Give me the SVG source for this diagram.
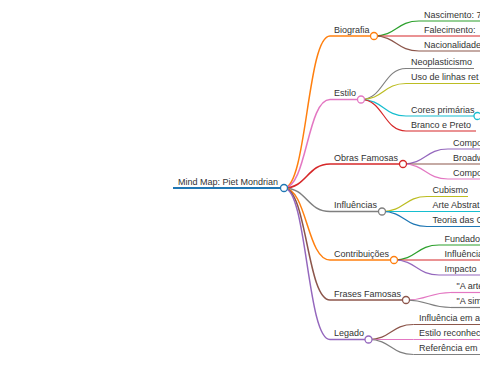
<svg xmlns="http://www.w3.org/2000/svg" width="480" height="379" viewBox="0 0 480 379">
<style>
.t{font-family:"Liberation Sans",Arial,sans-serif;font-size:9px;fill:#333}
path{fill:none}
.l0{stroke-width:2}
.l1{stroke-width:1.5}
.l2{stroke-width:1.2}
circle{fill:#fff;stroke-width:1.3}
.blue{stroke:#1f77b4}.orange{stroke:#ff7f0e}.green{stroke:#2ca02c}.red{stroke:#d62728}.purple{stroke:#9467bd}.brown{stroke:#8c564b}.pink{stroke:#e377c2}.gray{stroke:#7f7f7f}.olive{stroke:#bcbd22}.cyan{stroke:#17becf}
</style>
<rect width="480" height="379" fill="#fff"/>
<g id="connectors">
<path class="l1 orange" d="M284,188C307,188 307,36 330,36"/>
<path class="l1 pink" d="M284,188C307,188 307,99.5 330,99.5"/>
<path class="l1 red" d="M284,188C307,188 307,164 330,164"/>
<path class="l1 gray" d="M284,188C307,188 307,211.5 330,211.5"/>
<path class="l1 orange" d="M284,188C307,188 307,260 330,260"/>
<path class="l1 brown" d="M284,188C307,188 307,300 330,300"/>
<path class="l1 purple" d="M284,188C307,188 307,339.5 330,339.5"/>
<path class="l2 green" d="M374,36C396.5,36 396.5,21 419,21"/>
<path class="l2 red" d="M374,36C396.5,36 396.5,36 419,36"/>
<path class="l2 brown" d="M374,36C396.5,36 396.5,51 419,51"/>
<path class="l2 gray" d="M361,99.5C383.5,99.5 383.5,68.5 406,68.5"/>
<path class="l2 olive" d="M361,99.5C383.5,99.5 383.5,83.5 406,83.5"/>
<path class="l2 cyan" d="M361,99.5C383.5,99.5 383.5,116 406,116"/>
<path class="l2 red" d="M361,99.5C383.5,99.5 383.5,131 406,131"/>
<path class="l2 purple" d="M403,164C425.5,164 425.5,149 448,149"/>
<path class="l2 brown" d="M403,164C425.5,164 425.5,164 448,164"/>
<path class="l2 pink" d="M403,164C425.5,164 425.5,179 448,179"/>
<path class="l2 olive" d="M382,211.5C404.5,211.5 404.5,196.5 427,196.5"/>
<path class="l2 cyan" d="M382,211.5C404.5,211.5 404.5,211.5 427,211.5"/>
<path class="l2 blue" d="M382,211.5C404.5,211.5 404.5,226.5 427,226.5"/>
<path class="l2 green" d="M394,260C416.5,260 416.5,245 439,245"/>
<path class="l2 red" d="M394,260C416.5,260 416.5,260 439,260"/>
<path class="l2 purple" d="M394,260C416.5,260 416.5,275 439,275"/>
<path class="l2 pink" d="M406,300C428.5,300 428.5,292.5 451,292.5"/>
<path class="l2 gray" d="M406,300C428.5,300 428.5,307.5 451,307.5"/>
<path class="l2 brown" d="M368.5,339.5C391,339.5 391,324.5 413.5,324.5"/>
<path class="l2 pink" d="M368.5,339.5C391,339.5 391,339.5 413.5,339.5"/>
<path class="l2 gray" d="M368.5,339.5C391,339.5 391,354.5 413.5,354.5"/>
</g>
<g id="root">
<path class="l0 blue" d="M173,188H284"/>
<text class="t" x="178" y="184.5">Mind Map: Piet Mondrian</text>
<circle class="blue" cx="284" cy="188" r="3.5"/>
</g>
<g id="biografia">
<path class="l1 orange" d="M330,36H374"/>
<text class="t" x="334" y="32.5">Biografia</text>
<circle class="orange" cx="374" cy="36" r="3.5"/>
</g>
<g id="nascimento"><path class="l2 green" d="M419,21H482"/><text class="t" x="424" y="17.5">Nascimento: 7</text></g>
<g id="falecimento"><path class="l2 red" d="M419,36H482"/><text class="t" x="424" y="32.5">Falecimento:</text></g>
<g id="nacionalidade"><path class="l2 brown" d="M419,51H482"/><text class="t" x="424" y="47.5">Nacionalidade</text></g>
<g id="estilo">
<path class="l1 pink" d="M330,99.5H361"/>
<text class="t" x="334" y="96">Estilo</text>
<circle class="pink" cx="361" cy="99.5" r="3.5"/>
</g>
<g id="neoplasticismo"><path class="l2 gray" d="M406,68.5H474"/><text class="t" x="411" y="65">Neoplasticismo</text></g>
<g id="linhas"><path class="l2 olive" d="M406,83.5H482"/><text class="t" x="411" y="80">Uso de linhas ret</text></g>
<g id="cores"><path class="l2 cyan" d="M406,116H477.5"/><text class="t" x="411" y="112.5">Cores primárias</text><circle class="cyan" cx="477.5" cy="116" r="3.5"/></g>
<g id="branco"><path class="l2 red" d="M406,131H476"/><text class="t" x="411" y="127.5">Branco e Preto</text></g>
<g id="obras">
<path class="l1 red" d="M330,164H403"/>
<text class="t" x="334" y="160.5">Obras Famosas</text>
<circle class="red" cx="403" cy="164" r="3.5"/>
</g>
<g id="obra1"><path class="l2 purple" d="M448,149H482"/><text class="t" x="453" y="145.5">Compo</text></g>
<g id="obra2"><path class="l2 brown" d="M448,164H482"/><text class="t" x="453" y="160.5">Broadw</text></g>
<g id="obra3"><path class="l2 pink" d="M448,179H482"/><text class="t" x="453" y="175.5">Compo</text></g>
<g id="influencias">
<path class="l1 gray" d="M330,211.5H382"/>
<text class="t" x="334" y="208">Influências</text>
<circle class="gray" cx="382" cy="211.5" r="3.5"/>
</g>
<g id="cubismo"><path class="l2 olive" d="M427,196.5H468"/><text class="t" x="432.5" y="193">Cubismo</text></g>
<g id="abstrata"><path class="l2 cyan" d="M427,211.5H482"/><text class="t" x="432.5" y="208">Arte Abstrat</text></g>
<g id="teoria"><path class="l2 blue" d="M427,226.5H482"/><text class="t" x="432.5" y="223">Teoria das C</text></g>
<g id="contribuicoes">
<path class="l1 orange" d="M330,260H394"/>
<text class="t" x="334" y="256.5">Contribuições</text>
<circle class="orange" cx="394" cy="260" r="3.5"/>
</g>
<g id="fundador"><path class="l2 green" d="M439,245H482"/><text class="t" x="444.5" y="241.5">Fundado</text></g>
<g id="influencia2"><path class="l2 red" d="M439,260H482"/><text class="t" x="444.5" y="256.5">Influência</text></g>
<g id="impacto"><path class="l2 purple" d="M439,275H482"/><text class="t" x="444.5" y="271.5">Impacto</text></g>
<g id="frases">
<path class="l1 brown" d="M330,300H406"/>
<text class="t" x="334" y="296.5">Frases Famosas</text>
<circle class="brown" cx="406" cy="300" r="3.5"/>
</g>
<g id="frase1"><path class="l2 pink" d="M451,292.5H482"/><text class="t" x="456.5" y="289">"A arte</text></g>
<g id="frase2"><path class="l2 gray" d="M451,307.5H482"/><text class="t" x="456.5" y="304">"A sim</text></g>
<g id="legado">
<path class="l1 purple" d="M330,339.5H368.5"/>
<text class="t" x="334" y="336">Legado</text>
<circle class="purple" cx="368.5" cy="339.5" r="3.5"/>
</g>
<g id="legado1"><path class="l2 brown" d="M413.5,324.5H482"/><text class="t" x="419" y="321">Influência em a</text></g>
<g id="legado2"><path class="l2 pink" d="M413.5,339.5H482"/><text class="t" x="419" y="336">Estilo reconhec</text></g>
<g id="legado3"><path class="l2 gray" d="M413.5,354.5H482"/><text class="t" x="419" y="351">Referência em</text></g>
</svg>
